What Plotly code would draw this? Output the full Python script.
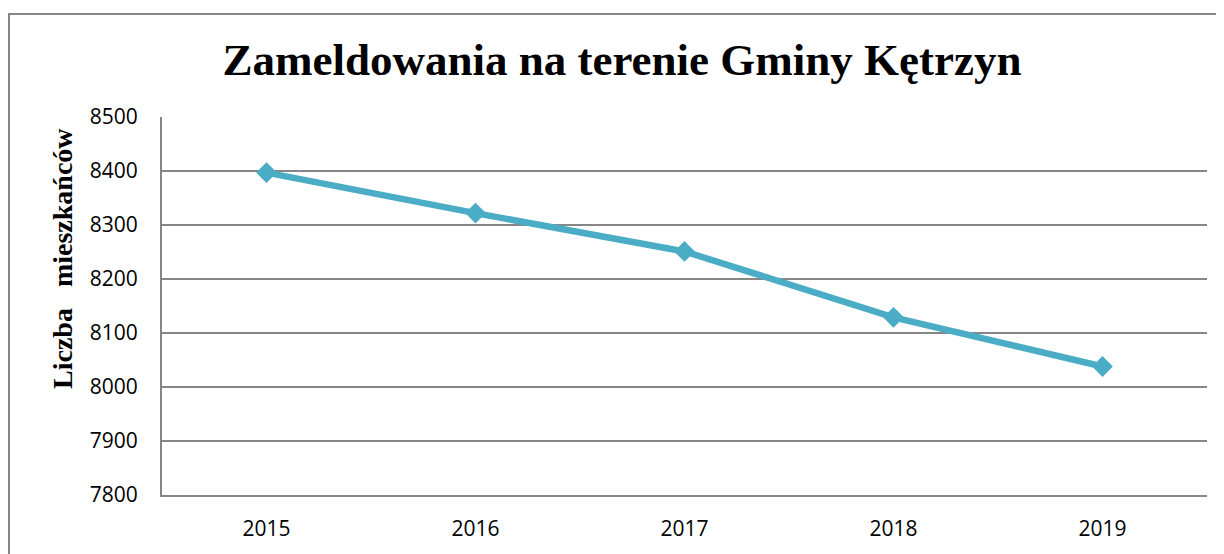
import plotly.graph_objects as go

years = ["2015", "2016", "2017", "2018", "2019"]
residents = [8397, 8322, 8251, 8129, 8038]
y_ticks = [7800, 7900, 8000, 8100, 8200, 8300, 8400, 8500]

# figure is placed at (8, 8) on the page by the default body margin
OFF = 8
W, H = 1224 - OFF, 554 - OFF
L, R, T, B = 162 - OFF, 1224 - 1207, 117 - OFF, 554 - 495
pw, ph = W - L - R, H - T - B

def px(x):
    return (x - OFF - L) / pw

def py(y):
    return (H - B - (y - OFF)) / ph

fig = go.Figure()
fig.add_trace(go.Scatter(
    x=years, y=residents, mode="lines+markers",
    line=dict(color="#4BACC6", width=6.5),
    marker=dict(symbol="diamond", size=16, color="#4BACC6"),
    showlegend=False,
))

fig.update_layout(
    width=W, height=H,
    margin=dict(l=L, r=R, t=T, b=B),
    paper_bgcolor="white", plot_bgcolor="white",
    title=dict(
        text="<b>Zameldowania na terenie Gminy Kętrzyn</b>",
        font=dict(family="Liberation Serif", size=45, color="black"),
        x=(622 - OFF) / W, xanchor="center", xref="container",
        y=1 - (59 - OFF) / H, yanchor="middle", yref="container",
    ),
    xaxis=dict(
        type="category", showgrid=False, showline=True, linecolor="#868686", linewidth=2,
        ticks="outside", ticklen=14, tickcolor="rgba(0,0,0,0)",
        tickfont=dict(family="Open Sans", size=21, color="black"),
        range=[-0.5, 4.5], fixedrange=True,
    ),
    yaxis=dict(
        range=[7800, 8500], tickvals=y_ticks, showgrid=True, gridcolor="#868686", gridwidth=2,
        showline=True, linecolor="#868686", linewidth=2,
        ticks="outside", ticklen=18, tickcolor="rgba(0,0,0,0)",
        tickfont=dict(family="Open Sans", size=21, color="black"),
        zeroline=False,
    ),
    annotations=[dict(
        text="<b>Liczba\u00a0\u00a0\u00a0mieszkańców</b>", textangle=-90,
        xref="paper", yref="paper", x=px(62), y=py(259),
        xanchor="center", yanchor="middle", showarrow=False,
        font=dict(family="Liberation Serif", size=28, color="black"),
    )],
    shapes=[dict(type="rect", xref="paper", yref="paper",
                 x0=px(9), x1=px(1223), y0=py(14), y1=py(600),
                 line=dict(color="#868686", width=2), layer="below")],
)

fig.write_html("out.html")
